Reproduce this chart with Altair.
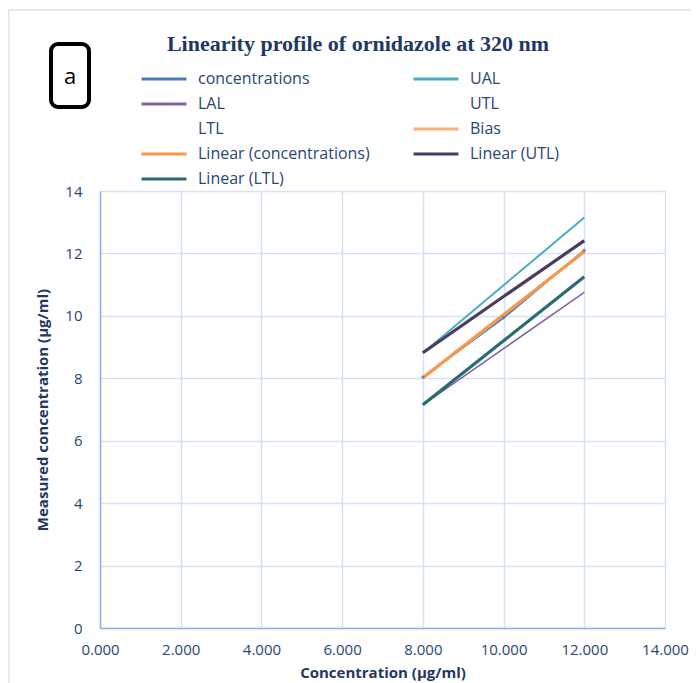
import altair as alt
import pandas as pd

# ---- data ----
x_vals = [8, 10, 12]
concentrations = [8.04, 9.94, 12.10]
ual = [8.81, 10.98, 13.15]
lal = [7.15, 8.95, 10.75]
bias = [8.02, 10.04, 12.06]
lin_conc = [8.00, 10.03, 12.06]
lin_utl = [8.82, 10.62, 12.41]
lin_ltl = [7.15, 9.20, 11.25]

# legend is filled column by column (2 columns, 5 rows)
legend_order = ["concentrations", "LAL", "LTL", "Linear (concentrations)", "Linear (LTL)",
                "UAL", "UTL", "Bias", "Linear (UTL)"]
colors = ["#4A7EBB", "#8064A2", "transparent", "#F79646", "#2A6B74",
          "#4BACC6", "transparent", "#FAB07A", "#4C3B61"]

# drawing order and line widths
draw_series = [("UAL", ual, 2), ("LAL", lal, 1.6), ("Linear (LTL)", lin_ltl, 3.2),
               ("Linear (UTL)", lin_utl, 3.2), ("concentrations", concentrations, 2.2),
               ("Bias", bias, 3.4), ("Linear (concentrations)", lin_conc, 2.4)]

TXT = "#1F3864"
LBL = "#2A4674"
FONT = "Open Sans"

xscale = alt.Scale(domain=[0, 14], nice=False)
yscale = alt.Scale(domain=[0, 14], nice=False)
cscale = alt.Scale(domain=legend_order, range=colors)
leg = alt.Legend(title=None, orient="none", legendX=55, legendY=-121,
                 columns=2, columnPadding=37, rowPadding=8,
                 symbolType="M-3,0H3", symbolSize=225,
                 symbolStrokeWidth=3, labelOffset=25,
                 labelFontSize=16, labelFont=FONT, labelColor=LBL,
                 padding=0, labelLimit=400)

line_layers = []
for i, (name, vals, w) in enumerate(draw_series):
    d = pd.DataFrame({"series": [name] * len(x_vals), "x": x_vals, "y": vals})
    enc = dict(
        x=alt.X("x:Q", scale=xscale,
                axis=alt.Axis(values=list(range(0, 15, 2)), format=".3f", labelFlush=False,
                              title="Concentration (µg/ml)", titlePadding=8)),
        y=alt.Y("y:Q", scale=yscale,
                axis=alt.Axis(values=list(range(0, 15, 2)), format="d", labelFlush=False,
                              title="Measured concentration (µg/ml)", titlePadding=14)),
        color=alt.Color("series:N", scale=cscale, legend=leg if i == 0 else None),
    )
    line_layers.append(alt.Chart(d).mark_line(strokeWidth=w, clip=False).encode(**enc))

pts = pd.DataFrame({"x": x_vals, "y": concentrations})
points = alt.Chart(pts).mark_point(shape="diamond", filled=True, size=18, color="#4A7EBB").encode(
    x=alt.X("x:Q", scale=xscale), y=alt.Y("y:Q", scale=yscale))

title = alt.Chart(pd.DataFrame({"t": ["Linearity profile of ornidazole at 320 nm"]})).mark_text(
    font="Liberation Serif", fontWeight="bold", fontSize=22, color=TXT, baseline="middle", align="center"
).encode(text="t:N", x=alt.value(258), y=alt.value(-147))

box = alt.Chart(pd.DataFrame({"a": [1]})).mark_rect(
    fill="white", stroke="black", strokeWidth=4, cornerRadius=7
).encode(x=alt.value(-49), x2=alt.value(-11), y=alt.value(-147), y2=alt.value(-84))

box_text = alt.Chart(pd.DataFrame({"t": ["a"]})).mark_text(
    font=FONT, fontSize=22, color="black", baseline="middle", align="center"
).encode(text="t:N", x=alt.value(-30), y=alt.value(-114))

frame_left = alt.Chart(pd.DataFrame({"a": [1]})).mark_rule(color="#D9E2F0", strokeWidth=1.5).encode(
    x=alt.value(-91), y=alt.value(-181), y2=alt.value(500))
frame_top = alt.Chart(pd.DataFrame({"a": [1]})).mark_rule(color="#D9E2F0", strokeWidth=1.5).encode(
    x=alt.value(-91), x2=alt.value(620), y=alt.value(-181))

chart = alt.layer(frame_left, frame_top, *line_layers, points, title, box, box_text).properties(
    width=565, height=437,
    autosize=alt.AutoSizeParams(type="none"),
    padding={"left": 92, "top": 183, "right": 26, "bottom": 56},
).configure_view(stroke=None).configure_axis(
    gridColor="#D6E2F3", gridWidth=1.5, domainColor="#8FB3E0", domainWidth=1.5,
    ticks=False, tickSize=0, labelFont=FONT, labelFontSize=15, labelColor=LBL,
    titleFont=FONT, titleFontSize=15, titleFontWeight="bold", titleColor=TXT,
).configure_axisX(labelPadding=14, domain=True).configure_axisY(labelPadding=18, domain=True)

chart.save("out.html", embed_options={"renderer": "svg", "actions": False})
